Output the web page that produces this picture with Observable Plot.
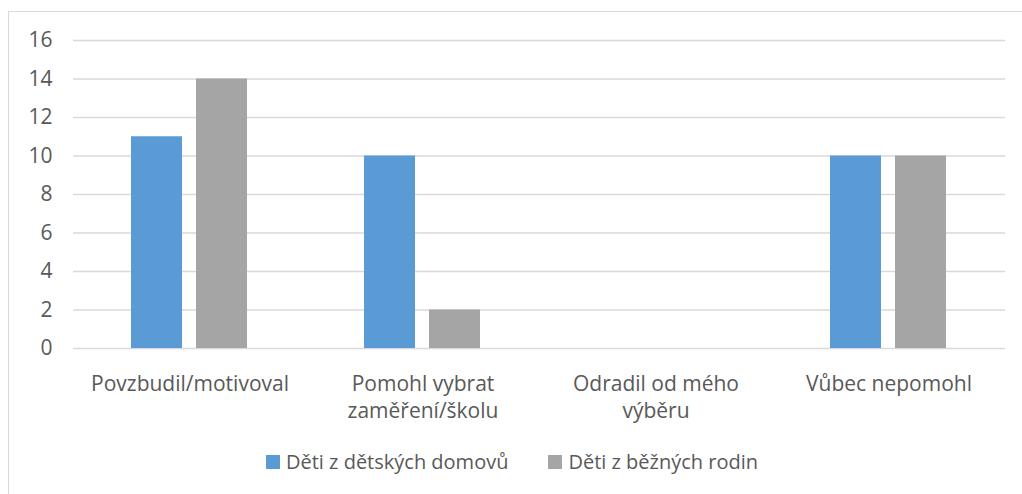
<!DOCTYPE html>
<html>
<head>
<meta charset="utf-8">
<script src="https://cdn.jsdelivr.net/npm/d3@7"></script>
<script src="https://cdn.jsdelivr.net/npm/@observablehq/plot@0.6"></script>
<style>
  html, body { margin: 0; padding: 0; background: #fff; width: 1022px; height: 494px; overflow: hidden; }
  #frame { position: absolute; left: 8px; top: 11px; width: 1040px; height: 520px; border: 1px solid #d9d9d9; box-sizing: border-box; }
  #chart { position: absolute; left: 0; top: 0; }
  #legend { position: absolute; left: 0; top: 448px; width: 1024px; display: flex; justify-content: center; gap: 40px;
    font-family: "Open Sans", sans-serif; font-size: 20px; color: #595959; }
  .item { display: flex; align-items: center; }
  .sw { width: 14px; height: 14px; margin-right: 6px; }
</style>
</head>
<body>
<div id="frame"></div>
<div id="chart"></div>
<div id="legend"></div>
<script>
const categories = ["Povzbudil/motivoval", "Pomohl vybrat\nzaměření/školu", "Odradil od mého\nvýběru", "Vůbec nepomohl"];
const series = ["Děti z dětských domovů", "Děti z běžných rodin"];
const valuesHomes = [11, 10, 0, 10];
const valuesFamilies = [14, 2, 0, 10];
const colors = ["#5B9BD5", "#A5A5A5"];
const yTicks = [0, 2, 4, 6, 8, 10, 12, 14, 16];

const data = categories.flatMap((c, i) => [
  {cat: c, series: series[0], value: valuesHomes[i]},
  {cat: c, series: series[1], value: valuesFamilies[i]}
]);

const chart = Plot.plot({
  width: 1022, height: 430,
  marginLeft: 72, marginRight: 16, marginTop: 40, marginBottom: 82,
  style: {fontFamily: "Open Sans, sans-serif", fontSize: "21px", color: "#595959", background: "transparent"},
  fx: {domain: categories, padding: 0, label: null},
  x: {domain: series, paddingInner: 0.212, paddingOuter: 0.875, axis: null},
  y: {domain: [0, 16], label: null},
  color: {domain: series, range: colors},
  marks: [
    Plot.gridY(yTicks, {stroke: "#d9d9d9", strokeOpacity: 1, strokeWidth: 1.3}),
    Plot.axisY(yTicks, {tickSize: 0, tickPadding: 21, label: null, fontSize: 21, fill: "#595959"}),
    Plot.axisFx({anchor: "bottom", tickSize: 0, tickPadding: 23, label: null, fontSize: 21, lineHeight: 1.29, fill: "#595959"}),
    Plot.barY(data, {fx: "cat", x: "series", y: "value", fill: "series"})
  ]
});
document.getElementById("chart").appendChild(chart);

const legend = document.getElementById("legend");
series.forEach((s, i) => {
  const item = document.createElement("div");
  item.className = "item";
  const sw = document.createElement("div");
  sw.className = "sw";
  sw.style.background = colors[i];
  const t = document.createElement("span");
  t.textContent = s;
  item.appendChild(sw);
  item.appendChild(t);
  legend.appendChild(item);
});
</script>
</body>
</html>
